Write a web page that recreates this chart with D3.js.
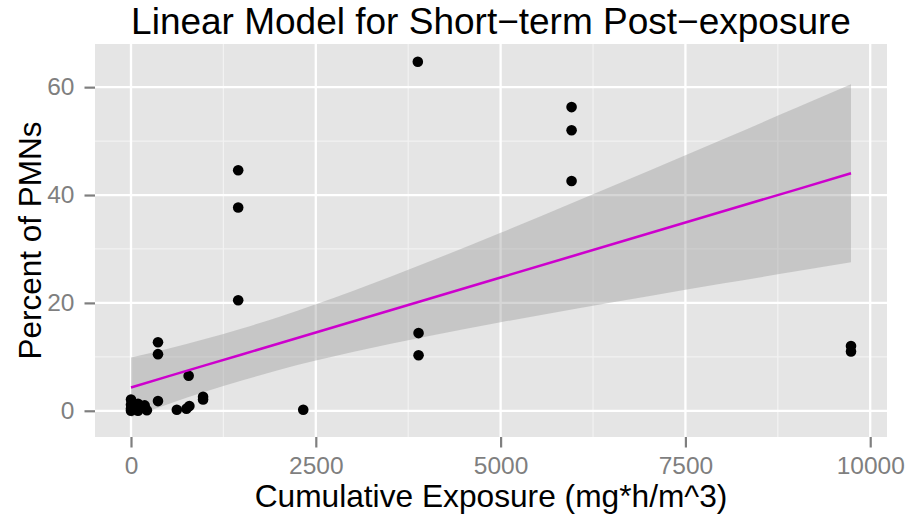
<!DOCTYPE html>
<html>
<head>
<meta charset="utf-8">
<script src="https://cdn.jsdelivr.net/npm/d3@7"></script>
<style>
  html, body { margin: 0; padding: 0; background: #ffffff; }
  svg { display: block; font-family: "Liberation Sans", Arial, Helvetica, sans-serif; }
</style>
</head>
<body>
<svg id="chart" width="914" height="521"></svg>
<script>
// ---- data ----
const exposure = [0, 0, 0, 0, 95, 95, 185, 215, 365, 365, 365, 620, 750, 790, 780, 975, 975,
                  1450, 1450, 1450, 2330, 3880, 3890, 3890, 5960, 5960, 5960, 9740, 9740];
const pmnPercent = [2.1, 1.1, 0.4, 0.0, 1.3, 0.0, 1.0, 0.1, 1.8, 12.7, 10.5, 0.2, 0.4, 0.9, 6.5, 2.6, 2.1,
                    44.6, 37.7, 20.5, 0.2, 64.7, 14.4, 10.3, 56.3, 52.0, 42.6, 12.0, 11.0];

// fitted line and confidence band, read at a few exposure values
const fitX     = [0, 500, 1000, 1500, 2000, 2500, 3000, 3500, 4000, 5000, 6000, 7000, 8000, 9000, 9740];
const fitY     = [4.33, 6.37, 8.41, 10.44, 12.48, 14.52, 16.56, 18.60, 20.63, 24.71, 28.79, 32.86, 36.94, 41.01, 44.03];
const fitLower = [-1.22, 1.22, 3.51, 5.62, 7.55, 9.30, 10.91, 12.40, 13.79, 16.41, 18.88, 21.25, 23.58, 25.86, 27.54];
const fitUpper = [9.88, 11.52, 13.31, 15.26, 17.41, 19.74, 22.21, 24.80, 27.47, 33.01, 38.70, 44.47, 50.30, 56.16, 60.52];

const xTicks = [0, 2500, 5000, 7500, 10000];
const xMinor = [1250, 3750, 6250, 8750];
const yTicks = [0, 20, 40, 60];
const yMinor = [10, 30, 50];

const titleText = "Linear Model for Short\u2212term Post\u2212exposure";
const xTitle = "Cumulative Exposure (mg*h/m^3)";
const yTitle = "Percent of PMNs";

// ---- layout ----
const W = 914, H = 521;
const panel = { left: 95, right: 887, top: 44, bottom: 437 };

const svg = d3.select("#chart");

const x = d3.scaleLinear().domain([-487, 10227]).range([panel.left, panel.right]);
const y = d3.scaleLinear().domain([-4.86, 68.0]).range([panel.bottom, panel.top]);

// panel background
svg.append("rect")
  .attr("x", panel.left).attr("y", panel.top)
  .attr("width", panel.right - panel.left).attr("height", panel.bottom - panel.top)
  .attr("fill", "#e5e5e5");

const grid = svg.append("g");
// minor grid
grid.selectAll("line.xminor").data(xMinor).enter().append("line")
  .attr("x1", d => x(d)).attr("x2", d => x(d))
  .attr("y1", panel.top).attr("y2", panel.bottom)
  .attr("stroke", "#f2f2f2").attr("stroke-width", 1.2);
grid.selectAll("line.yminor").data(yMinor).enter().append("line")
  .attr("y1", d => y(d)).attr("y2", d => y(d))
  .attr("x1", panel.left).attr("x2", panel.right)
  .attr("stroke", "#f2f2f2").attr("stroke-width", 1.2);
// major grid
grid.selectAll("line.xmajor").data(xTicks).enter().append("line")
  .attr("x1", d => x(d)).attr("x2", d => x(d))
  .attr("y1", panel.top).attr("y2", panel.bottom)
  .attr("stroke", "#ffffff").attr("stroke-width", 2.3);
grid.selectAll("line.ymajor").data(yTicks).enter().append("line")
  .attr("y1", d => y(d)).attr("y2", d => y(d))
  .attr("x1", panel.left).attr("x2", panel.right)
  .attr("stroke", "#ffffff").attr("stroke-width", 2.3);

// confidence ribbon
const band = fitX.map((d, i) => ({ x: d, lo: fitLower[i], hi: fitUpper[i] }));
svg.append("path")
  .datum(band)
  .attr("d", d3.area().curve(d3.curveMonotoneX).x(d => x(d.x)).y0(d => y(d.lo)).y1(d => y(d.hi)))
  .attr("fill", "#999999").attr("fill-opacity", 0.4);

// points
const pts = exposure.map((d, i) => ({ x: d, y: pmnPercent[i] }));
svg.append("g").selectAll("circle").data(pts).enter().append("circle")
  .attr("cx", d => x(d.x)).attr("cy", d => y(d.y)).attr("r", 5.3)
  .attr("fill", "#000000");

// fitted line
const fit = fitX.map((d, i) => ({ x: d, y: fitY[i] }));
svg.append("path")
  .datum(fit)
  .attr("d", d3.line().x(d => x(d.x)).y(d => y(d.y)))
  .attr("fill", "none").attr("stroke", "#cd00cd").attr("stroke-width", 2.5);

// axes
const tickCol = "#7f7f7f";
const xAxis = d3.axisBottom(x).tickValues(xTicks).tickSize(10.5).tickPadding(9).tickFormat(d3.format("d"));
const gx = svg.append("g").attr("transform", `translate(0,${panel.bottom})`).call(xAxis);
gx.select(".domain").remove();
gx.selectAll(".tick line").attr("stroke", tickCol).attr("stroke-width", 2.2);
gx.selectAll(".tick text").attr("fill", tickCol).attr("font-size", 24.5)
  .attr("font-family", "Liberation Sans, Arial, sans-serif");

const yAxis = d3.axisLeft(y).tickValues(yTicks).tickSize(10.5).tickPadding(10).tickFormat(d3.format("d"));
const gy = svg.append("g").attr("transform", `translate(${panel.left},0)`).call(yAxis);
gy.select(".domain").remove();
gy.selectAll(".tick line").attr("stroke", tickCol).attr("stroke-width", 2.2);
gy.selectAll(".tick text").attr("fill", tickCol).attr("font-size", 24.5)
  .attr("font-family", "Liberation Sans, Arial, sans-serif");

// titles
const cx = (panel.left + panel.right) / 2;
svg.append("text")
  .attr("x", cx).attr("y", 34)
  .attr("text-anchor", "middle")
  .attr("font-size", 37).attr("fill", "#000")
  .text(titleText);

svg.append("text")
  .attr("x", cx).attr("y", 507)
  .attr("text-anchor", "middle")
  .attr("font-size", 31.7).attr("fill", "#000")
  .text(xTitle);

svg.append("text")
  .attr("transform", `translate(41,${(panel.top + panel.bottom) / 2}) rotate(-90)`)
  .attr("text-anchor", "middle")
  .attr("font-size", 31.5).attr("fill", "#000")
  .text(yTitle);
</script>
</body>
</html>
